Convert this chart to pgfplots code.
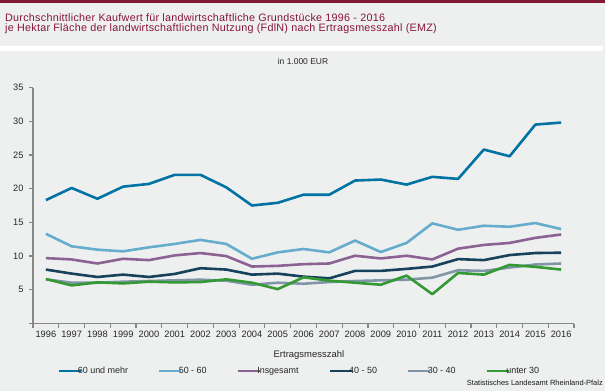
\documentclass[border=0pt]{standalone}
\usepackage{fontspec}
\setmainfont{Liberation Sans}
\newfontfamily\titlefont[LetterSpace=2.5]{Liberation Sans}
\usepackage{pgfplots}
\pgfplotsset{compat=1.18}
\definecolor{bgc}{RGB}{238,240,239}
\definecolor{topbar}{RGB}{130,25,50}
\definecolor{titlec}{RGB}{135,20,60}
\definecolor{axisgray}{RGB}{135,135,135}
\definecolor{cA}{RGB}{0,114,163}
\definecolor{cB}{RGB}{102,172,204}
\definecolor{cC}{RGB}{140,98,148}
\definecolor{cD}{RGB}{22,66,92}
\definecolor{cE}{RGB}{128,150,166}
\definecolor{cF}{RGB}{52,152,52}
\begin{document}
\begin{tikzpicture}[x=1bp,y=1bp]
\fill[bgc] (0,0) rectangle (605,391);
\fill[topbar] (0,388) rectangle (605,391);
\fill[white] (0,391-51) rectangle (603,391-46);
\node[anchor=base west, inner sep=0pt, text=titlec, font=\titlefont\fontsize{10.8}{12}\selectfont] at (5,391-21) {Durchschnittlicher Kaufwert für landwirtschaftliche Grundstücke 1996 - 2016};
\node[anchor=base west, inner sep=0pt, text=titlec, font=\titlefont\fontsize{10.8}{12}\selectfont] at (5,391-31.5) {je Hektar Fläche der landwirtschaftlichen Nutzung (FdlN) nach Ertragsmesszahl (EMZ)};
\node[anchor=center, inner sep=0pt, text=black!85, font=\fontsize{8.5}{10}\selectfont] at (303,391-61) {in 1.000 EUR};
\node[anchor=base east, inner sep=0pt, text=black!90, font=\fontsize{7.5}{9}\selectfont] at (603,391-385.5) {Statistisches Landesamt Rheinland-Pfalz};
\begin{axis}[
  at={(33bp,67.5bp)}, anchor=south west,
  scale only axis, width=541bp, height=236bp,
  xmin=-0.5, xmax=20.5, ymin=0, ymax=35,
  axis x line*=bottom, axis y line*=left,
  axis line style={draw=axisgray, line width=1.2bp},
  xtick={0,...,20},
  xticklabels={1996,1997,1998,1999,2000,2001,2002,2003,2004,2005,2006,2007,2008,2009,2010,2011,2012,2013,2014,2015,2016},
  minor xtick={-0.5,0.5,...,20.5},
  major x tick style={draw=none},
  minor x tick style={draw=axisgray, line width=1.2bp},
  minor tick length=4bp,
  ytick={0,5,...,35},
  yticklabels={,5,10,15,20,25,30,35},
  y tick style={draw=axisgray, line width=1.2bp},
  major tick length=4bp,
  tick align=outside,
  tick label style={font=\fontsize{9.3}{10}\selectfont, text=black!85},
  yticklabel style={xshift=-2bp},
  /pgf/number format/assume math mode=true,
  xlabel={Ertragsmesszahl},
  xlabel style={at={(axis description cs:0.510,-0.134)}, anchor=center, font=\fontsize{9.5}{11}\selectfont, text=black!85},
  legend columns=6,
  legend style={at={(axis description cs:0.0444,-0.201)}, anchor=west, draw=none, fill=none, inner sep=0pt,
    font=\fontsize{9}{10}\selectfont, text=black!85,
    nodes={inner sep=0pt},
    /tikz/every odd column/.append style={column sep=0pt},
    /tikz/every even column/.append style={column sep=30bp}},
  legend image code/.code={\path (0bp,0bp) -- (18bp,0bp); \draw[#1, line width=2.6bp, overlay] (4bp,0bp) -- (22bp,0bp);},
  every axis plot/.append style={line width=2.6bp, line join=round, mark=none},
  clip=false,
]
\addplot[cA] coordinates {(0,18.3)(1,20.1)(2,18.5)(3,20.3)(4,20.7)(5,22.05)(6,22.05)(7,20.2)(8,17.5)(9,17.9)(10,19.1)(11,19.1)(12,21.2)(13,21.35)(14,20.6)(15,21.75)(16,21.45)(17,25.8)(18,24.8)(19,29.5)(20,29.8)};
\addlegendentry{60 und mehr}
\addplot[cB] coordinates {(0,13.3)(1,11.45)(2,10.95)(3,10.7)(4,11.3)(5,11.8)(6,12.4)(7,11.8)(8,9.6)(9,10.55)(10,11.05)(11,10.55)(12,12.3)(13,10.6)(14,11.95)(15,14.85)(16,13.9)(17,14.5)(18,14.35)(19,14.9)(20,14.0)};
\addlegendentry{50 - 60}
\addplot[cC] coordinates {(0,9.7)(1,9.5)(2,8.9)(3,9.6)(4,9.4)(5,10.1)(6,10.45)(7,10.0)(8,8.45)(9,8.55)(10,8.8)(11,8.9)(12,10.05)(13,9.65)(14,10.05)(15,9.5)(16,11.1)(17,11.65)(18,11.95)(19,12.7)(20,13.2)};
\addlegendentry{Insgesamt}
\addplot[cD] coordinates {(0,8.0)(1,7.4)(2,6.9)(3,7.25)(4,6.9)(5,7.35)(6,8.2)(7,8.0)(8,7.25)(9,7.4)(10,6.95)(11,6.7)(12,7.8)(13,7.8)(14,8.1)(15,8.45)(16,9.55)(17,9.4)(18,10.15)(19,10.45)(20,10.5)};
\addlegendentry{40 - 50}
\addplot[cE] coordinates {(0,6.55)(1,6.05)(2,6.05)(3,6.2)(4,6.3)(5,6.4)(6,6.5)(7,6.35)(8,5.75)(9,6.05)(10,5.9)(11,6.15)(12,6.3)(13,6.4)(14,6.5)(15,6.8)(16,7.9)(17,7.8)(18,8.3)(19,8.75)(20,8.9)};
\addlegendentry{30 - 40}
\addplot[cF] coordinates {(0,6.6)(1,5.65)(2,6.1)(3,5.95)(4,6.2)(5,6.1)(6,6.15)(7,6.55)(8,6.05)(9,5.1)(10,6.85)(11,6.35)(12,6.05)(13,5.75)(14,7.1)(15,4.35)(16,7.5)(17,7.25)(18,8.7)(19,8.4)(20,8.0)};
\addlegendentry{unter 30}
\end{axis}
\end{tikzpicture}
\end{document}
